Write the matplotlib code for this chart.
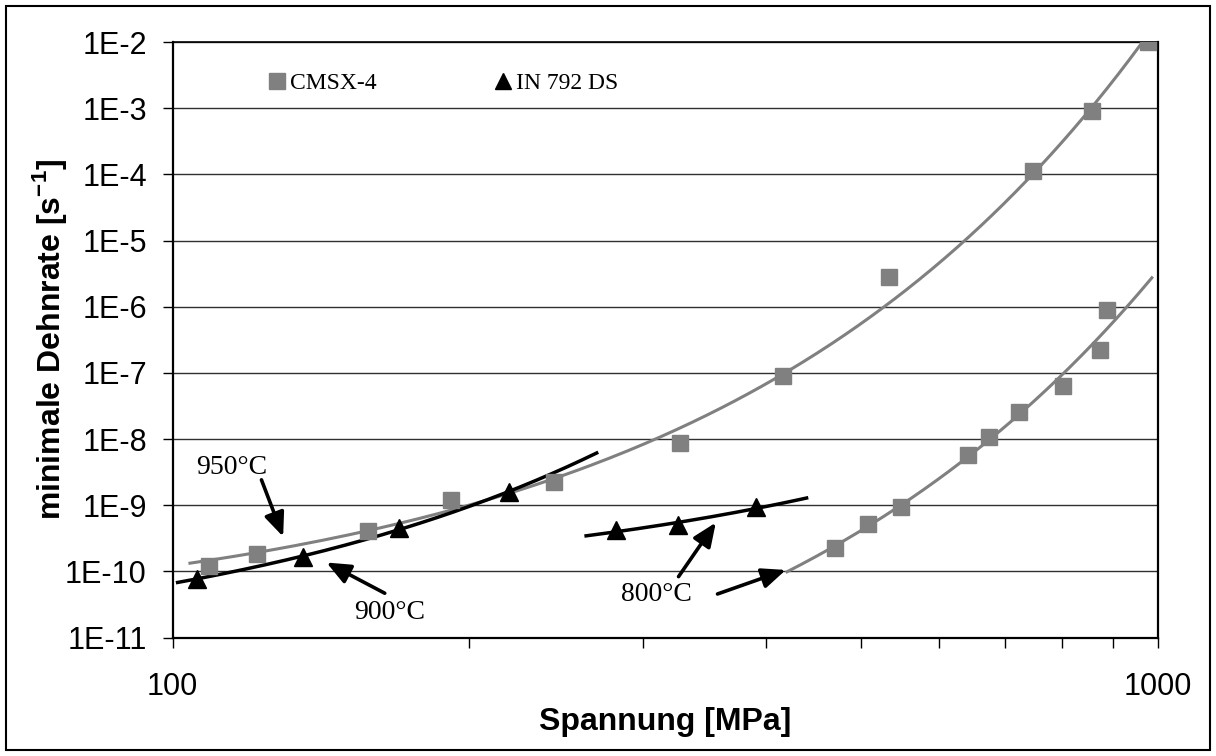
import numpy as np
import matplotlib
matplotlib.use('Agg')
import matplotlib.pyplot as plt
from matplotlib.ticker import FixedLocator, FuncFormatter, NullFormatter
from matplotlib.lines import Line2D
from matplotlib.patches import Rectangle

# ---------------- data ----------------
# CMSX-4, 950 °C
cmsx_950_stress = [108.9, 121.9, 157.8, 191.8, 243.6, 327.3, 416.6, 533.8, 747.4, 857.0, 975.9]
cmsx_950_rate = [1.2e-10, 1.85e-10, 4.1e-10, 1.18e-9, 2.24e-9, 8.85e-9, 9.0e-8, 2.86e-6,
                 1.11e-4, 9.2e-4, 1.0e-2]
cmsx_950_fit_range = [103.8, 985.0]

# CMSX-4, 800 °C
cmsx_800_stress = [470.0, 507.5, 548.4, 640.8, 674.5, 722.4, 801.0, 872.5, 887.3]
cmsx_800_rate = [2.29e-10, 5.16e-10, 9.5e-10, 5.8e-9, 1.07e-8, 2.55e-8, 6.4e-8, 2.23e-7, 8.8e-7]
cmsx_800_fit_range = [419.0, 988.0]

# IN 792 DS, 900 °C
in792_900_stress = [105.8, 135.8, 169.9, 219.7]
in792_900_rate = [7.7e-11, 1.64e-10, 4.6e-10, 1.58e-9]
in792_900_fit_range = [100.8, 270.4]

# IN 792 DS, 800 °C
in792_800_stress = [281.9, 326.0, 391.3]
in792_800_rate = [4.2e-10, 5.0e-10, 9.3e-10]
in792_800_fit_range = [261.8, 441.7]

y_ticks = [1e-11, 1e-10, 1e-9, 1e-8, 1e-7, 1e-6, 1e-5, 1e-4, 1e-3, 1e-2]
x_major = [100, 1000]
x_minor = [200, 300, 400, 500, 600, 700, 800, 900]

GRAY = '#808080'

plt.rcParams['font.family'] = ['Liberation Sans', 'DejaVu Sans']
plt.rcParams['mathtext.fontset'] = 'custom'
plt.rcParams['mathtext.rm'] = 'Liberation Sans'
plt.rcParams['mathtext.bf'] = 'Liberation Sans:bold'

fig = plt.figure(figsize=(12.16, 7.56), dpi=100)
ax = fig.add_axes([172.5 / 1216, 1 - 637.5 / 756, (1158 - 172.5) / 1216, (637.5 - 42.2) / 756])


def exp_trend(x, y, rng):
    coef = np.polyfit(np.asarray(x, float), np.log10(np.asarray(y, float)), 1)
    xs = np.linspace(rng[0], rng[1], 300)
    return xs, 10 ** np.polyval(coef, xs)


# trend lines (Excel exponential trendlines)
for xs_, ys_, rng, col, lw in [
    (cmsx_950_stress, cmsx_950_rate, cmsx_950_fit_range, GRAY, 2.2),
    (cmsx_800_stress, cmsx_800_rate, cmsx_800_fit_range, GRAY, 2.2),
    (in792_900_stress, in792_900_rate, in792_900_fit_range, 'black', 2.5),
    (in792_800_stress, in792_800_rate, in792_800_fit_range, 'black', 2.5),
]:
    tx, ty = exp_trend(xs_, ys_, rng)
    ax.plot(tx, ty, color=col, lw=lw, zorder=3, solid_capstyle='butt')

# markers
sq_kw = dict(ls='none', marker='s', ms=11.5, mfc=GRAY, mec=GRAY, zorder=4)
tri_kw = dict(ls='none', marker='^', ms=12.5, mfc='black', mec='black', zorder=5)
ax.plot(cmsx_950_stress, cmsx_950_rate, **sq_kw)
ax.plot(cmsx_800_stress, cmsx_800_rate, **sq_kw)
ax.plot(in792_900_stress, in792_900_rate, **tri_kw)
ax.plot(in792_800_stress, in792_800_rate, **tri_kw)

ax.set_xscale('log')
ax.set_yscale('log')
ax.set_xlim(100, 1000)
ax.set_ylim(1e-11, 1e-2)

ax.yaxis.set_major_locator(FixedLocator(y_ticks))
ax.yaxis.set_minor_locator(FixedLocator([]))
ax.yaxis.set_major_formatter(FuncFormatter(lambda v, p: '1E%d' % int(round(np.log10(v)))))
ax.xaxis.set_major_locator(FixedLocator(x_major))
ax.xaxis.set_minor_locator(FixedLocator(x_minor))
ax.xaxis.set_major_formatter(FuncFormatter(lambda v, p: '%d' % int(round(v))))
ax.xaxis.set_minor_formatter(NullFormatter())

ax.tick_params(axis='y', which='major', direction='out', length=7.5, width=1.0,
               labelsize=22, pad=11, color='black')
ax.tick_params(axis='x', which='both', direction='out', length=7.5, width=1.0,
               labelsize=22, pad=17, color='black')

ax.grid(axis='y', which='major', color='#303030', lw=1.0)
ax.set_axisbelow(True)
for s in ax.spines.values():
    s.set_color('black')
    s.set_linewidth(1.6)
ax.spines['top'].set_linewidth(1.2)

ax.set_ylabel(r'minimale Dehnrate [s$^{\mathbf{-1}}$]', fontsize=23, fontweight='bold')
ax.yaxis.set_label_coords(-0.1055, 0.5)
ax.set_xlabel('Spannung [MPa]', fontsize=23, fontweight='bold', labelpad=4)

# legend
handles = [Line2D([], [], ls='none', marker='s', ms=11, mfc=GRAY, mec=GRAY),
           Line2D([], [], ls='none', marker='^', ms=12, mfc='black', mec='black')]
ax.legend(handles, ['CMSX-4', 'IN 792 DS'], ncol=2, frameon=False, loc='center left',
          bbox_to_anchor=(0.076, 0.931), handlelength=0.7, handletextpad=0.2,
          columnspacing=5.0, prop={'family': 'Liberation Serif', 'size': 17})

# annotations
arrow = dict(arrowstyle='-|>,head_length=0.4,head_width=0.17', color='black', lw=2.6,
             mutation_scale=36, shrinkA=0, shrinkB=0)
txt = dict(family='Liberation Serif', fontsize=20, ha='center', va='center')

ax.text(114.8, 3.76e-9, '950°C', **txt)
ax.annotate('', xy=(129.5, 3.35e-10), xytext=(123.1, 2.42e-9), arrowprops=arrow)

ax.text(165.9, 2.4e-11, '900°C', **txt)
ax.annotate('', xy=(143.3, 1.36e-10), xytext=(164.2, 4.67e-11), arrowprops=arrow)

ax.text(309.5, 4.4e-11, '800°C', **txt)
ax.annotate('', xy=(355.9, 5.46e-10), xytext=(326.2, 8.32e-11), arrowprops=arrow)
ax.annotate('', xy=(419.1, 1.05e-10), xytext=(357.3, 4.55e-11), arrowprops=arrow)

# outer frame of the picture
fig.add_artist(Rectangle((6 / 1216, 6 / 756), 1204 / 1216, 744 / 756, transform=fig.transFigure,
                         fill=False, ec='black', lw=1.5))

fig.savefig('out.png', dpi=100)
